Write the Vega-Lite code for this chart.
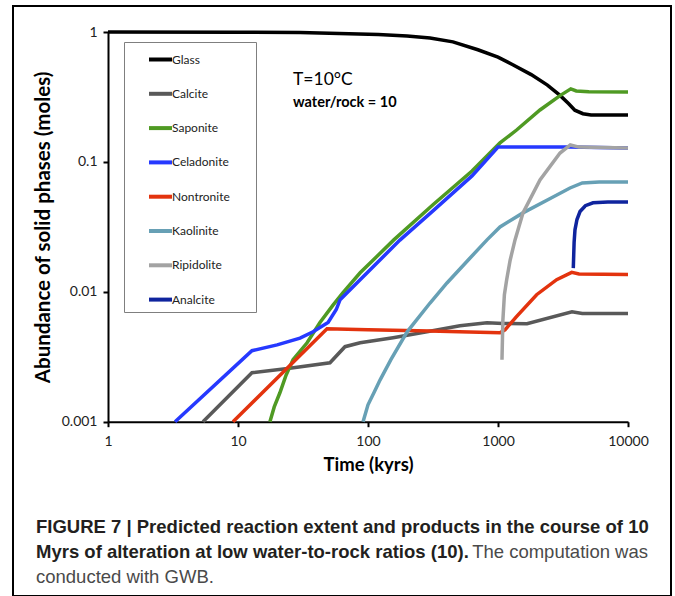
{
  "$schema": "https://vega.github.io/schema/vega-lite/v6.json",
  "autosize": {"type": "none"},
  "padding": {"left": 13, "top": 6, "right": 4, "bottom": 0},
  "width": 658,
  "height": 590,
  "background": "white",
  "config": {"font": "Lato", "view": {"stroke": "#000", "strokeWidth": 2}},
  "layer": [
    {
      "data": {"values": [
        {"p":"Glass","t":1,"v":1},{"p":"Glass","t":10,"v":0.995},{"p":"Glass","t":30,"v":0.99},{"p":"Glass","t":60,"v":0.975},{"p":"Glass","t":120,"v":0.955},{"p":"Glass","t":200,"v":0.93},{"p":"Glass","t":300,"v":0.9},{"p":"Glass","t":450,"v":0.84},{"p":"Glass","t":700,"v":0.73},{"p":"Glass","t":1000,"v":0.64},{"p":"Glass","t":1300,"v":0.56},{"p":"Glass","t":1800,"v":0.47},{"p":"Glass","t":2400,"v":0.39},{"p":"Glass","t":3000,"v":0.325},{"p":"Glass","t":3500,"v":0.28},{"p":"Glass","t":3900,"v":0.25},{"p":"Glass","t":4500,"v":0.235},{"p":"Glass","t":5200,"v":0.23},{"p":"Glass","t":10000,"v":0.23},
        {"p":"Calcite","t":5.38,"v":0.001},{"p":"Calcite","t":12.8,"v":0.00238},{"p":"Calcite","t":25,"v":0.00258},{"p":"Calcite","t":51,"v":0.00284},{"p":"Calcite","t":66.5,"v":0.00378},{"p":"Calcite","t":87,"v":0.00405},{"p":"Calcite","t":156,"v":0.00443},{"p":"Calcite","t":284,"v":0.00492},{"p":"Calcite","t":510,"v":0.00547},{"p":"Calcite","t":823,"v":0.00578},{"p":"Calcite","t":1094,"v":0.0057},{"p":"Calcite","t":1671,"v":0.00567},{"p":"Calcite","t":3708,"v":0.00702},{"p":"Calcite","t":4450,"v":0.0068},{"p":"Calcite","t":10000,"v":0.0068},
        {"p":"Saponite","t":17.6,"v":0.001},{"p":"Saponite","t":19,"v":0.0013},{"p":"Saponite","t":21,"v":0.00167},{"p":"Saponite","t":23.5,"v":0.0023},{"p":"Saponite","t":26.5,"v":0.003},{"p":"Saponite","t":34,"v":0.00405},{"p":"Saponite","t":42.7,"v":0.0058},{"p":"Saponite","t":53.8,"v":0.0079},{"p":"Saponite","t":64,"v":0.0098},{"p":"Saponite","t":87,"v":0.014},{"p":"Saponite","t":158,"v":0.0251},{"p":"Saponite","t":316,"v":0.0468},{"p":"Saponite","t":631,"v":0.0851},{"p":"Saponite","t":1036,"v":0.14},{"p":"Saponite","t":1390,"v":0.176},{"p":"Saponite","t":2104,"v":0.251},{"p":"Saponite","t":3000,"v":0.324},{"p":"Saponite","t":3630,"v":0.365},{"p":"Saponite","t":4000,"v":0.352},{"p":"Saponite","t":5000,"v":0.347},{"p":"Saponite","t":10000,"v":0.345},
        {"p":"Celadonite","t":3.28,"v":0.001},{"p":"Celadonite","t":12.8,"v":0.00352},{"p":"Celadonite","t":20,"v":0.0039},{"p":"Celadonite","t":30,"v":0.0044},{"p":"Celadonite","t":37.8,"v":0.00492},{"p":"Celadonite","t":49.3,"v":0.0058},{"p":"Celadonite","t":57,"v":0.0073},{"p":"Celadonite","t":61,"v":0.0087},{"p":"Celadonite","t":87,"v":0.0124},{"p":"Celadonite","t":176,"v":0.025},{"p":"Celadonite","t":316,"v":0.042},{"p":"Celadonite","t":631,"v":0.078},{"p":"Celadonite","t":1000,"v":0.13},{"p":"Celadonite","t":3500,"v":0.13},{"p":"Celadonite","t":10000,"v":0.128},
        {"p":"Nontronite","t":9.15,"v":0.001},{"p":"Nontronite","t":48.4,"v":0.0052},{"p":"Nontronite","t":100,"v":0.0051},{"p":"Nontronite","t":300,"v":0.005},{"p":"Nontronite","t":600,"v":0.0049},{"p":"Nontronite","t":1036,"v":0.00484},{"p":"Nontronite","t":1132,"v":0.0051},{"p":"Nontronite","t":1393,"v":0.00646},{"p":"Nontronite","t":1982,"v":0.0095},{"p":"Nontronite","t":2825,"v":0.0124},{"p":"Nontronite","t":3690,"v":0.0141},{"p":"Nontronite","t":4200,"v":0.0137},{"p":"Nontronite","t":10000,"v":0.0136},
        {"p":"Kaolinite","t":91.6,"v":0.001},{"p":"Kaolinite","t":100,"v":0.00135},{"p":"Kaolinite","t":112,"v":0.0017},{"p":"Kaolinite","t":124,"v":0.0021},{"p":"Kaolinite","t":150,"v":0.003},{"p":"Kaolinite","t":200,"v":0.00492},{"p":"Kaolinite","t":300,"v":0.0082},{"p":"Kaolinite","t":405,"v":0.0117},{"p":"Kaolinite","t":600,"v":0.0179},{"p":"Kaolinite","t":823,"v":0.0251},{"p":"Kaolinite","t":1036,"v":0.0316},{"p":"Kaolinite","t":1556,"v":0.0405},{"p":"Kaolinite","t":2500,"v":0.052},{"p":"Kaolinite","t":3580,"v":0.063},{"p":"Kaolinite","t":4450,"v":0.0689},{"p":"Kaolinite","t":6000,"v":0.07},{"p":"Kaolinite","t":10000,"v":0.07},
        {"p":"Ripidolite","t":1073,"v":0.003},{"p":"Ripidolite","t":1090,"v":0.006},{"p":"Ripidolite","t":1120,"v":0.0095},{"p":"Ripidolite","t":1166,"v":0.0124},{"p":"Ripidolite","t":1240,"v":0.0175},{"p":"Ripidolite","t":1352,"v":0.0251},{"p":"Ripidolite","t":1556,"v":0.0405},{"p":"Ripidolite","t":2104,"v":0.0727},{"p":"Ripidolite","t":3000,"v":0.117},{"p":"Ripidolite","t":3600,"v":0.135},{"p":"Ripidolite","t":4200,"v":0.13},{"p":"Ripidolite","t":10000,"v":0.128},
        {"p":"Analcite","t":3795,"v":0.0152},{"p":"Analcite","t":3850,"v":0.024},{"p":"Analcite","t":3910,"v":0.03},{"p":"Analcite","t":4050,"v":0.036},{"p":"Analcite","t":4275,"v":0.0415},{"p":"Analcite","t":4700,"v":0.046},{"p":"Analcite","t":5383,"v":0.0484},{"p":"Analcite","t":7000,"v":0.0492},{"p":"Analcite","t":10000,"v":0.0492}
      ]},
      "mark": {"type": "line", "strokeWidth": 3.5, "strokeCap": "butt"},
      "encoding": {
        "x": {"field": "t", "type": "quantitative",
          "scale": {"type": "log", "domain": [1, 10000], "range": [95, 615], "nice": false},
          "axis": {"values": [1, 10, 100, 1000, 10000], "format": "d", "title": "Time (kyrs)", "offset": -174.3,
            "grid": false, "domainColor": "#000", "domainWidth": 2, "tickColor": "#000", "tickWidth": 2, "tickSize": 5,
            "labelFontSize": 14, "labelColor": "#222", "labelPadding": 8, "labelFlush": false, "labelOverlap": false,
            "titleFontSize": 18.5, "titleFontWeight": "bold", "titleColor": "#000", "titlePadding": 7}},
        "y": {"field": "v", "type": "quantitative",
          "scale": {"type": "log", "domain": [0.001, 1], "range": [415.7, 26], "nice": false},
          "axis": {"values": [0.001, 0.01, 0.1, 1], "format": "~g", "title": "Abundance of solid phases (moles)", "offset": -95,
            "grid": false, "domainColor": "#000", "domainWidth": 2, "tickColor": "#000", "tickWidth": 2, "tickSize": 5,
            "labelFontSize": 14, "labelColor": "#222", "labelPadding": 6, "labelFlush": false, "labelOverlap": false,
            "titleFontSize": 20.5, "titleFontWeight": "bold", "titleColor": "#000", "titlePadding": 8}},
        "color": {"field": "p", "type": "nominal",
          "scale": {"domain": ["Glass", "Calcite", "Saponite", "Celadonite", "Nontronite", "Kaolinite", "Ripidolite", "Analcite"],
                    "range": ["#000000", "#595959", "#4f9a23", "#2639ff", "#e3330e", "#67a0b5", "#a3a3a3", "#0f249e"]},
          "legend": {"title": " ", "titleOrient": "right", "titlePadding": 22, "orient": "none", "legendX": 111, "legendY": 36,
            "symbolType": "stroke", "symbolSize": 529,
            "symbolStrokeWidth": 4, "symbolOffset": 19, "labelOffset": -2, "labelFontSize": 12, "labelColor": "#222",
            "rowPadding": 12.3, "padding": 4, "strokeColor": "#7f7f7f", "fillColor": "#ffffff"}}
      }
    },
    {
      "data": {"values": [{}]},
      "mark": {"type": "text", "text": "T=10°C", "align": "left", "baseline": "middle", "fontSize": 17.5, "color": "#000"},
      "encoding": {"x": {"datum": 26.5}, "y": {"datum": 0.427}}
    },
    {
      "data": {"values": [{}]},
      "mark": {"type": "text", "text": "water/rock = 10", "align": "left", "baseline": "middle", "fontSize": 14.5, "fontWeight": "bold", "color": "#000"},
      "encoding": {"x": {"datum": 26.5}, "y": {"datum": 0.284}}
    },
    {
      "data": {"values": [{}]},
      "mark": {"type": "text", "text": "FIGURE 7 | Predicted reaction extent and products in the course of 10", "align": "left", "baseline": "middle",
        "dx": -72, "dy": 105.3, "font": "Liberation Sans", "fontSize": 18.5, "fontWeight": "bold", "color": "#231f20"},
      "encoding": {"x": {"datum": 1}, "y": {"datum": 0.001}}
    },
    {
      "data": {"values": [{}]},
      "mark": {"type": "text", "text": "Myrs of alteration at low water-to-rock ratios (10).", "align": "left", "baseline": "middle",
        "dx": -72, "dy": 130.3, "font": "Liberation Sans", "fontSize": 18.5, "fontWeight": "bold", "color": "#231f20"},
      "encoding": {"x": {"datum": 1}, "y": {"datum": 0.001}}
    },
    {
      "data": {"values": [{}]},
      "mark": {"type": "text", "text": "The computation was", "align": "right", "baseline": "middle",
        "dx": 20, "dy": 130.3, "font": "Liberation Sans", "fontSize": 18.5, "color": "#4a4a4a"},
      "encoding": {"x": {"datum": 10000}, "y": {"datum": 0.001}}
    },
    {
      "data": {"values": [{}]},
      "mark": {"type": "text", "text": "conducted with GWB.", "align": "left", "baseline": "middle",
        "dx": -72, "dy": 155.3, "font": "Liberation Sans", "fontSize": 18.5, "color": "#4a4a4a"},
      "encoding": {"x": {"datum": 1}, "y": {"datum": 0.001}}
    }
  ]
}
